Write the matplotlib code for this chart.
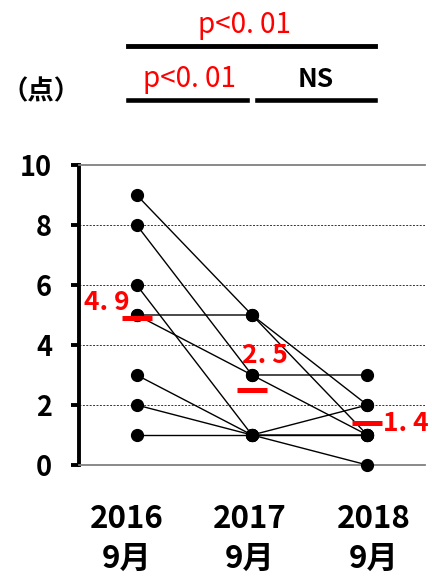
import matplotlib
matplotlib.use("Agg")
import matplotlib.pyplot as plt
import matplotlib.transforms as mtransforms
from matplotlib.lines import Line2D

# scores of each subject at (2016, 2017, 2018)
years = ["2016\n9月", "2017\n9月", "2018\n9月"]
subj_a = [9, 5, 2]
subj_b = [8, 3, 3]
subj_c = [6, 1, 1]
subj_d = [5, 5, 1]
subj_e = [5, 3, 1]
subj_f = [3, 1, 0]
subj_g = [2, 1, 2]
subj_h = [1, 1, 1]
subjects = [subj_a, subj_b, subj_c, subj_d, subj_e, subj_f, subj_g, subj_h]

means = [4.9, 2.5, 1.4]
mean_labels = ["4. 9", "2. 5", "1. 4"]
yticks = [0, 2, 4, 6, 8, 10]

FONT = ["Noto Sans CJK JP", "DejaVu Sans"]
plt.rcParams["font.family"] = FONT

W, H = 432, 580


def fx(px):
    return px / W


def fy(py):
    return 1 - py / H


fig = plt.figure(figsize=(W / 100, H / 100), dpi=100)
ax = fig.add_axes([fx(79), fy(465), fx(425) - fx(79), fy(165) - fy(465)])

xs = [1, 2, 3]
for s in subjects:
    ax.plot(xs, s, color="black", lw=1.0, marker="o", ms=8.5,
            mfc="black", mec="black", clip_on=False, zorder=3)

# mean markers
ax.plot(xs, means, ls="none", marker="_", ms=21, mew=3.6, color="red",
        clip_on=False, zorder=5)
label_offsets = [(-21.6, 10.8), (9.4, 24.5), (28, -0.7)]
for x, m, lab, off in zip(xs, means, mean_labels, label_offsets):
    ax.annotate(lab, (x, m), xytext=off, textcoords="offset points",
                ha="center", va="center", color="red", fontsize=19,
                fontweight="bold", zorder=6)

# dashed grid lines inside, solid gray at 0 and 10
for v in yticks[1:-1]:
    ax.axhline(v, color="#333333", lw=0.7, ls=(0, (2, 1.5)), zorder=1)

ax.set_xlim(0.5, 3.5)
ax.set_ylim(0, 10)
ax.set_yticks(yticks)
ax.set_xticks(xs, years)

for side in ["top", "bottom"]:
    ax.spines[side].set_color("#808080")
    ax.spines[side].set_linewidth(1.3)
ax.spines["right"].set_visible(False)
ax.spines["left"].set_linewidth(2.8)
ax.spines["left"].set_color("black")

ax.tick_params(axis="y", length=6, width=2.8, pad=13.5, labelsize=19.5)
ax.tick_params(axis="x", length=0, pad=27, labelsize=22.5)
for t in ax.get_yticklabels():
    t.set_fontweight("bold")
nudges = [-10, -2, 6]
for t, dx in zip(ax.get_xticklabels(), nudges):
    t.set_fontweight("bold")
    t.set_linespacing(1.35)
    t.set_transform(t.get_transform() + mtransforms.ScaledTranslation(dx / 100, 0, fig.dpi_scale_trans))

# significance brackets
fig.add_artist(Line2D([fx(128), fx(375)], [fy(45.5), fy(45.5)], color="black", lw=3.5))
fig.add_artist(Line2D([fx(128), fx(247)], [fy(99.5), fy(99.5)], color="black", lw=3.3))
fig.add_artist(Line2D([fx(257), fx(375)], [fy(99.5), fy(99.5)], color="black", lw=3.3))

fig.text(fx(244), fy(33), "p<0. 01", color="red", fontsize=20, ha="center", va="baseline")
fig.text(fx(189), fy(87), "p<0. 01", color="red", fontsize=20, ha="center", va="baseline")
fig.text(fx(316), fy(87), "NS", color="black", fontsize=19, fontweight="bold",
         ha="center", va="baseline")
fig.text(fx(41), fy(92), "（点）", color="black", fontsize=19, fontweight="bold",
         ha="center", va="center")

fig.savefig("out.png", dpi=100)
